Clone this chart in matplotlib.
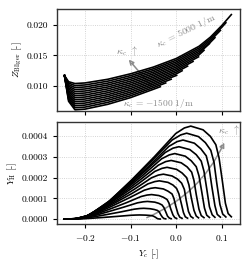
import matplotlib
matplotlib.use("Agg")
import matplotlib.pyplot as plt
from matplotlib.ticker import FormatStrFormatter, MultipleLocator
from matplotlib.patches import FancyArrowPatch

plt.rcParams["font.family"] = "serif"
plt.rcParams["font.serif"] = ["cmr10"]
plt.rcParams["mathtext.fontset"] = "cm"
plt.rcParams["axes.formatter.use_mathtext"] = True
plt.rcParams["axes.unicode_minus"] = True

# curvature values, 1/m
kappa = [-1500, -1000, -500, 0, 500, 1000, 1500, 2000, 2500, 3000, 3500, 4000, 4500, 5000]

# top panel: Z_Bilger over Y_c
yc_top = [
    [-0.245, -0.236, -0.222, -0.2, -0.15, -0.1, -0.05, -0.035],
    [-0.245, -0.236, -0.222, -0.2, -0.15, -0.1, -0.05, -0.023],
    [-0.245, -0.236, -0.222, -0.2, -0.15, -0.1, -0.05, -0.011],
    [-0.245, -0.236, -0.222, -0.2, -0.15, -0.1, -0.05, 0.001],
    [-0.245, -0.236, -0.222, -0.2, -0.15, -0.1, -0.05, 0.0, 0.013],
    [-0.245, -0.236, -0.222, -0.2, -0.15, -0.1, -0.05, 0.0, 0.025],
    [-0.245, -0.236, -0.222, -0.2, -0.15, -0.1, -0.05, 0.0, 0.037],
    [-0.245, -0.236, -0.222, -0.2, -0.15, -0.1, -0.05, 0.0, 0.049],
    [-0.245, -0.236, -0.222, -0.2, -0.15, -0.1, -0.05, 0.0, 0.05, 0.061],
    [-0.245, -0.236, -0.222, -0.2, -0.15, -0.1, -0.05, 0.0, 0.05, 0.073],
    [-0.245, -0.236, -0.222, -0.2, -0.15, -0.1, -0.05, 0.0, 0.05, 0.075, 0.085],
    [-0.245, -0.236, -0.222, -0.2, -0.15, -0.1, -0.05, 0.0, 0.05, 0.075, 0.097],
    [-0.245, -0.236, -0.222, -0.2, -0.15, -0.1, -0.05, 0.0, 0.05, 0.075, 0.1, 0.109],
    [-0.245, -0.236, -0.222, -0.2, -0.15, -0.1, -0.05, 0.0, 0.05, 0.075, 0.1, 0.121],
]
z_top = [
    [0.0117, 0.0075, 0.0061, 0.00621, 0.0070, 0.0081, 0.00946, 0.00988],
    [0.0117, 0.00775, 0.00644, 0.00654, 0.00732, 0.0084, 0.00974, 0.0105],
    [0.0117, 0.0080, 0.00677, 0.00687, 0.00764, 0.0087, 0.01002, 0.01111],
    [0.0117, 0.00825, 0.0071, 0.0072, 0.00795, 0.0090, 0.0103, 0.01174],
    [0.0117, 0.0085, 0.00743, 0.00753, 0.00827, 0.0093, 0.01058, 0.01198, 0.0125],
    [0.0117, 0.00874, 0.00776, 0.00786, 0.00858, 0.0096, 0.01086, 0.01226, 0.01326],
    [0.0117, 0.0090, 0.00809, 0.00819, 0.0089, 0.0099, 0.01114, 0.01254, 0.01402],
    [0.0117, 0.00924, 0.00842, 0.00852, 0.00921, 0.0102, 0.01142, 0.01282, 0.01478],
    [0.0117, 0.00949, 0.00875, 0.00885, 0.00953, 0.0105, 0.0117, 0.0131, 0.0151, 0.01585],
    [0.0117, 0.00974, 0.00908, 0.00918, 0.00984, 0.0108, 0.01198, 0.01338, 0.01538, 0.01694],
    [0.0117, 0.00998, 0.00941, 0.00951, 0.01016, 0.0111, 0.01226, 0.01366, 0.01566, 0.01716, 0.01792],
    [0.0117, 0.01023, 0.00974, 0.00984, 0.01047, 0.0114, 0.01254, 0.01394, 0.01594, 0.01744, 0.01911],
    [0.0117, 0.01048, 0.01007, 0.01017, 0.01079, 0.0117, 0.01282, 0.01422, 0.01622, 0.01772, 0.01962, 0.02036],
    [0.0117, 0.0107, 0.0104, 0.0105, 0.0111, 0.0120, 0.0131, 0.0145, 0.0165, 0.0180, 0.0199, 0.0217],
]

# bottom panel: Y_H over Y_c (Y_H in 1e-5)
yc_bot = [
    [-0.245, -0.229, -0.212, -0.186, -0.158, -0.128, -0.100, -0.088, -0.080, -0.067, -0.058, -0.052, -0.049, -0.045, -0.042, -0.039, -0.035],
    [-0.245, -0.228, -0.210, -0.182, -0.153, -0.121, -0.092, -0.080, -0.071, -0.057, -0.048, -0.041, -0.037, -0.034, -0.030, -0.027, -0.023],
    [-0.245, -0.227, -0.209, -0.179, -0.149, -0.116, -0.085, -0.072, -0.063, -0.047, -0.038, -0.031, -0.027, -0.023, -0.019, -0.015, -0.011],
    [-0.245, -0.226, -0.207, -0.176, -0.144, -0.109, -0.077, -0.064, -0.054, -0.038, -0.028, -0.020, -0.016, -0.012, -0.007, -0.003, 0.001],
    [-0.245, -0.225, -0.205, -0.173, -0.140, -0.104, -0.070, -0.056, -0.046, -0.028, -0.018, -0.009, -0.005, -0.001, 0.004, 0.008, 0.013],
    [-0.245, -0.224, -0.203, -0.170, -0.135, -0.097, -0.062, -0.047, -0.037, -0.018, -0.007, 0.001, 0.006, 0.011, 0.016, 0.020, 0.025],
    [-0.245, -0.223, -0.202, -0.167, -0.130, -0.091, -0.054, -0.039, -0.028, -0.009, 0.003, 0.012, 0.018, 0.022, 0.027, 0.032, 0.037],
    [-0.245, -0.223, -0.200, -0.164, -0.126, -0.085, -0.047, -0.031, -0.020, 0.001, 0.013, 0.023, 0.028, 0.033, 0.039, 0.044, 0.049],
    [-0.245, -0.222, -0.198, -0.161, -0.121, -0.079, -0.039, -0.023, -0.011, 0.011, 0.024, 0.034, 0.039, 0.044, 0.050, 0.055, 0.061],
    [-0.245, -0.221, -0.197, -0.158, -0.117, -0.073, -0.032, -0.015, -0.003, 0.020, 0.033, 0.044, 0.050, 0.056, 0.062, 0.067, 0.073],
    [-0.245, -0.220, -0.195, -0.155, -0.112, -0.067, -0.024, -0.007, 0.006, 0.030, 0.044, 0.055, 0.061, 0.067, 0.073, 0.079, 0.085],
    [-0.245, -0.219, -0.193, -0.151, -0.107, -0.060, -0.016, 0.002, 0.015, 0.040, 0.054, 0.066, 0.072, 0.078, 0.085, 0.090, 0.097],
    [-0.245, -0.218, -0.191, -0.149, -0.103, -0.055, -0.009, 0.010, 0.023, 0.049, 0.064, 0.076, 0.083, 0.089, 0.096, 0.102, 0.109],
    [-0.245, -0.217, -0.190, -0.145, -0.098, -0.048, -0.001, 0.018, 0.032, 0.059, 0.075, 0.087, 0.094, 0.101, 0.108, 0.114, 0.121],
]
yh_bot = [
    [0, 0.01, 0.09, 0.40, 0.84, 1.34, 1.84, 1.96, 2.0, 1.92, 1.78, 1.60, 1.32, 0.84, 0.34, 0.12, 0.05],
    [0, 0.03, 0.23, 1.04, 2.18, 3.48, 4.78, 5.10, 5.2, 4.99, 4.63, 4.16, 3.43, 2.18, 0.88, 0.31, 0.13],
    [0, 0.05, 0.38, 1.70, 3.57, 5.70, 7.82, 8.33, 8.5, 8.16, 7.57, 6.80, 5.61, 3.57, 1.45, 0.51, 0.21],
    [0, 0.07, 0.53, 2.36, 4.96, 7.91, 10.86, 11.56, 11.8, 11.33, 10.50, 9.44, 7.79, 4.96, 2.01, 0.71, 0.30],
    [0, 0.09, 0.68, 3.02, 6.34, 10.12, 13.89, 14.80, 15.1, 14.50, 13.44, 12.08, 9.97, 6.34, 2.57, 0.91, 0.38],
    [0, 0.11, 0.83, 3.68, 7.73, 12.33, 16.93, 18.03, 18.4, 17.66, 16.38, 14.72, 12.14, 7.73, 3.13, 1.10, 0.46],
    [0, 0.13, 0.97, 4.32, 9.07, 14.47, 19.87, 21.17, 21.6, 20.74, 19.22, 17.28, 14.26, 9.07, 3.67, 1.30, 0.54],
    [0, 0.15, 1.12, 4.98, 10.46, 16.68, 22.91, 24.40, 24.9, 23.90, 22.16, 19.92, 16.43, 10.46, 4.23, 1.49, 0.62],
    [0, 0.17, 1.27, 5.64, 11.84, 18.89, 25.94, 27.64, 28.2, 27.07, 25.10, 22.56, 18.61, 11.84, 4.79, 1.69, 0.71],
    [0, 0.19, 1.42, 6.30, 13.23, 21.10, 28.98, 30.87, 31.5, 30.24, 28.04, 25.20, 20.79, 13.23, 5.36, 1.89, 0.79],
    [0, 0.21, 1.57, 6.96, 14.62, 23.32, 32.02, 34.10, 34.8, 33.41, 30.97, 27.84, 22.97, 14.62, 5.92, 2.09, 0.87],
    [0, 0.23, 1.71, 7.60, 15.96, 25.46, 34.96, 37.24, 38.0, 36.48, 33.82, 30.40, 25.08, 15.96, 6.46, 2.28, 0.95],
    [0, 0.25, 1.86, 8.26, 17.35, 27.67, 38.00, 40.47, 41.3, 39.65, 36.76, 33.04, 27.26, 17.35, 7.02, 2.48, 1.03],
    [0, 0.27, 2.01, 8.94, 18.77, 29.95, 41.12, 43.81, 44.7, 42.91, 39.78, 35.76, 29.50, 18.77, 7.60, 2.68, 1.12],
]

fig = plt.figure(figsize=(2.5, 2.6), dpi=100)
ax1 = fig.add_axes([0.228, 0.573, 0.732, 0.392])
ax2 = fig.add_axes([0.228, 0.138, 0.732, 0.393], sharex=ax1)

for x, z in zip(yc_top, z_top):
    ax1.plot(x, z, color="black", lw=1.2)
for x, y in zip(yc_bot, yh_bot):
    ax2.plot(x, [v * 1e-5 for v in y], color="black", lw=1.2)

grey = "0.55"
for ax in (ax1, ax2):
    ax.grid(True, ls=":", lw=0.6, color="0.78")
    ax.tick_params(labelsize=6.8, length=3, width=0.8, direction="out")
    for s in ax.spines.values():
        s.set_linewidth(1.0)
        s.set_color("0.2")

ax1.set_xlim(-0.2614, 0.140)
ax1.set_ylim(0.0059, 0.0226)
ax1.yaxis.set_major_locator(MultipleLocator(0.005))
ax1.yaxis.set_major_formatter(FormatStrFormatter("%.3f"))
ax1.xaxis.set_major_locator(MultipleLocator(0.1))
ax1.tick_params(labelbottom=False)
ax1.set_ylabel(r"$Z_\mathrm{Bilger}$ [-]", fontsize=6.8, labelpad=2)

ax2.set_ylim(-0.000024, 0.000467)
ax2.yaxis.set_major_locator(MultipleLocator(0.0001))
ax2.yaxis.set_major_formatter(FormatStrFormatter("%.4f"))
ax2.set_ylabel(r"$Y_\mathrm{H}$ [-]", fontsize=6.8, labelpad=2)
ax2.set_xlabel(r"$Y_c$ [-]", fontsize=6.8, labelpad=3)

# annotations, top panel
ax1.add_patch(FancyArrowPatch((-0.051, 0.00967), (-0.108, 0.01467),
                              arrowstyle="-|>", mutation_scale=7, color=grey, lw=1.1))
ax1.text(-0.108, 0.0158, r"$\kappa_c$ $\uparrow$", fontsize=7.5, color=grey, ha="center", va="center")
ax1.text(0.022, 0.0191, r"$\kappa_c$ = 5000 1/m", fontsize=7, color=grey,
         ha="center", va="center", rotation=26)
ax1.text(-0.038, 0.0072, r"$\kappa_c$ = $-$1500 1/m", fontsize=6.8, color=grey,
         ha="center", va="center")

# annotations, bottom panel
ax2.add_patch(FancyArrowPatch((-0.07, 0.000002), (0.108, 0.00038),
                              connectionstyle="arc3,rad=0.2",
                              arrowstyle="-|>", mutation_scale=7, color=grey, lw=1.1))
ax2.text(0.115, 0.000428, r"$\kappa_c$ $\uparrow$", fontsize=7.5, color=grey, ha="center", va="center")

fig.savefig("out.png", dpi=100)
